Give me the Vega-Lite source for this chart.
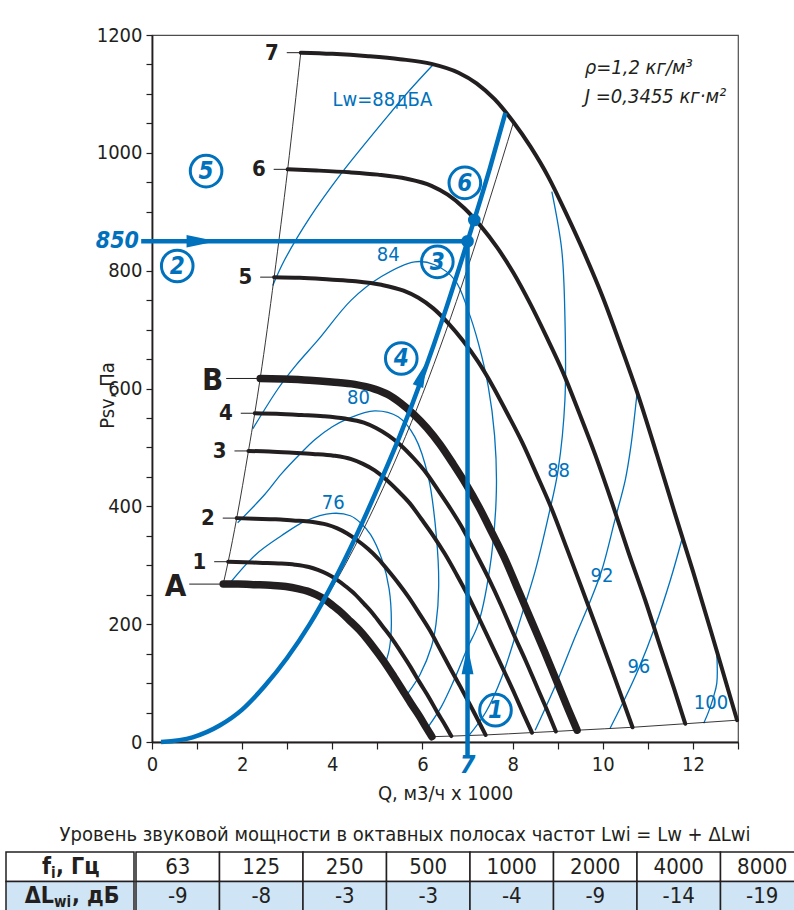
{
  "$schema": "https://vega.github.io/schema/vega-lite/v6.json",
  "padding": {"left": 4, "top": 24, "right": 0, "bottom": 0},
  "columns": 2,
  "align": {"row": "all", "column": "none"},
  "spacing": {"row": 21, "column": 0},
  "config": {
    "font": "Liberation Sans Narrow, DejaVu Sans Condensed, sans-serif",
    "view": {"stroke": null},
    "axis": {
      "domainColor": "#231f20", "domainWidth": 1.8, "tickColor": "#231f20", "tickWidth": 1.2,
      "labelColor": "#231f20", "labelFont": "Liberation Sans Narrow, DejaVu Sans Condensed, sans-serif", "labelFontSize": 20,
      "titleFont": "Liberation Sans Narrow, DejaVu Sans Condensed, sans-serif", "titleFontSize": 20, "titleFontWeight": "normal", "titleColor": "#231f20",
      "grid": false, "labelOverlap": false, "labelFlush": false
    }
  },
  "datasets": {
    "curves": [
      {"c":"7","Q":3.30,"P":1170},{"c":"7","Q":4.0,"P":1168},{"c":"7","Q":4.8,"P":1164},{"c":"7","Q":5.5,"P":1159},{"c":"7","Q":6.2,"P":1151},{"c":"7","Q":6.8,"P":1136},{"c":"7","Q":7.2,"P":1118},{"c":"7","Q":7.6,"P":1091},{"c":"7","Q":8.0,"P":1054},{"c":"7","Q":8.4,"P":1010},{"c":"7","Q":8.8,"P":958},{"c":"7","Q":9.2,"P":895},{"c":"7","Q":9.6,"P":828},{"c":"7","Q":10.0,"P":755},{"c":"7","Q":10.4,"P":672},{"c":"7","Q":10.8,"P":585},{"c":"7","Q":11.2,"P":488},{"c":"7","Q":11.6,"P":388},{"c":"7","Q":12.0,"P":290},{"c":"7","Q":12.4,"P":188},{"c":"7","Q":12.7,"P":110},{"c":"7","Q":12.98,"P":37},
      {"c":"6","Q":3.01,"P":972},{"c":"6","Q":3.65,"P":970},{"c":"6","Q":4.38,"P":967},{"c":"6","Q":5.01,"P":963},{"c":"6","Q":5.65,"P":956},{"c":"6","Q":6.20,"P":944},{"c":"6","Q":6.56,"P":929},{"c":"6","Q":6.93,"P":906},{"c":"6","Q":7.29,"P":876},{"c":"6","Q":7.66,"P":839},{"c":"6","Q":8.02,"P":796},{"c":"6","Q":8.39,"P":744},{"c":"6","Q":8.75,"P":688},{"c":"6","Q":9.12,"P":627},{"c":"6","Q":9.48,"P":558},{"c":"6","Q":9.84,"P":486},{"c":"6","Q":10.21,"P":405},{"c":"6","Q":10.57,"P":322},{"c":"6","Q":10.94,"P":241},{"c":"6","Q":11.30,"P":156},{"c":"6","Q":11.58,"P":91},{"c":"6","Q":11.83,"P":31},
      {"c":"5","Q":2.71,"P":789},{"c":"5","Q":3.28,"P":788},{"c":"5","Q":3.94,"P":785},{"c":"5","Q":4.52,"P":782},{"c":"5","Q":5.09,"P":776},{"c":"5","Q":5.58,"P":766},{"c":"5","Q":5.91,"P":754},{"c":"5","Q":6.24,"P":736},{"c":"5","Q":6.57,"P":711},{"c":"5","Q":6.90,"P":681},{"c":"5","Q":7.23,"P":646},{"c":"5","Q":7.56,"P":604},{"c":"5","Q":7.88,"P":558},{"c":"5","Q":8.21,"P":509},{"c":"5","Q":8.54,"P":453},{"c":"5","Q":8.87,"P":395},{"c":"5","Q":9.20,"P":329},{"c":"5","Q":9.53,"P":262},{"c":"5","Q":9.85,"P":196},{"c":"5","Q":10.18,"P":127},{"c":"5","Q":10.43,"P":74},{"c":"5","Q":10.66,"P":25},
      {"c":"B","Q":2.40,"P":617},{"c":"B","Q":2.90,"P":616},{"c":"B","Q":3.49,"P":614},{"c":"B","Q":3.99,"P":611},{"c":"B","Q":4.50,"P":607},{"c":"B","Q":4.94,"P":599},{"c":"B","Q":5.23,"P":590},{"c":"B","Q":5.52,"P":575},{"c":"B","Q":5.81,"P":556},{"c":"B","Q":6.10,"P":533},{"c":"B","Q":6.39,"P":505},{"c":"B","Q":6.68,"P":472},{"c":"B","Q":6.97,"P":437},{"c":"B","Q":7.26,"P":398},{"c":"B","Q":7.55,"P":354},{"c":"B","Q":7.84,"P":309},{"c":"B","Q":8.13,"P":257},{"c":"B","Q":8.42,"P":205},{"c":"B","Q":8.71,"P":153},{"c":"B","Q":9.00,"P":99},{"c":"B","Q":9.22,"P":58},{"c":"B","Q":9.43,"P":20},
      {"c":"4","Q":2.28,"P":558},{"c":"4","Q":2.76,"P":557},{"c":"4","Q":3.32,"P":555},{"c":"4","Q":3.80,"P":553},{"c":"4","Q":4.28,"P":549},{"c":"4","Q":4.70,"P":542},{"c":"4","Q":4.97,"P":533},{"c":"4","Q":5.25,"P":520},{"c":"4","Q":5.53,"P":503},{"c":"4","Q":5.80,"P":482},{"c":"4","Q":6.08,"P":457},{"c":"4","Q":6.35,"P":427},{"c":"4","Q":6.63,"P":395},{"c":"4","Q":6.91,"P":360},{"c":"4","Q":7.18,"P":321},{"c":"4","Q":7.46,"P":279},{"c":"4","Q":7.74,"P":233},{"c":"4","Q":8.01,"P":185},{"c":"4","Q":8.29,"P":138},{"c":"4","Q":8.56,"P":90},{"c":"4","Q":8.77,"P":53},{"c":"4","Q":8.96,"P":18},
      {"c":"3","Q":2.14,"P":494},{"c":"3","Q":2.60,"P":493},{"c":"3","Q":3.12,"P":491},{"c":"3","Q":3.57,"P":489},{"c":"3","Q":4.03,"P":486},{"c":"3","Q":4.42,"P":480},{"c":"3","Q":4.68,"P":472},{"c":"3","Q":4.94,"P":461},{"c":"3","Q":5.20,"P":445},{"c":"3","Q":5.46,"P":426},{"c":"3","Q":5.72,"P":405},{"c":"3","Q":5.98,"P":378},{"c":"3","Q":6.24,"P":350},{"c":"3","Q":6.50,"P":319},{"c":"3","Q":6.76,"P":284},{"c":"3","Q":7.02,"P":247},{"c":"3","Q":7.28,"P":206},{"c":"3","Q":7.54,"P":164},{"c":"3","Q":7.80,"P":122},{"c":"3","Q":8.06,"P":79},{"c":"3","Q":8.25,"P":46},{"c":"3","Q":8.43,"P":16},
      {"c":"2","Q":1.88,"P":380},{"c":"2","Q":2.28,"P":379},{"c":"2","Q":2.74,"P":378},{"c":"2","Q":3.13,"P":376},{"c":"2","Q":3.53,"P":374},{"c":"2","Q":3.88,"P":369},{"c":"2","Q":4.10,"P":363},{"c":"2","Q":4.33,"P":354},{"c":"2","Q":4.56,"P":342},{"c":"2","Q":4.79,"P":328},{"c":"2","Q":5.02,"P":311},{"c":"2","Q":5.24,"P":291},{"c":"2","Q":5.47,"P":269},{"c":"2","Q":5.70,"P":245},{"c":"2","Q":5.93,"P":218},{"c":"2","Q":6.16,"P":190},{"c":"2","Q":6.38,"P":159},{"c":"2","Q":6.61,"P":126},{"c":"2","Q":6.84,"P":94},{"c":"2","Q":7.07,"P":61},{"c":"2","Q":7.24,"P":36},{"c":"2","Q":7.40,"P":12},
      {"c":"1","Q":1.69,"P":306},{"c":"1","Q":2.05,"P":305},{"c":"1","Q":2.46,"P":304},{"c":"1","Q":2.81,"P":303},{"c":"1","Q":3.17,"P":301},{"c":"1","Q":3.48,"P":297},{"c":"1","Q":3.68,"P":292},{"c":"1","Q":3.89,"P":285},{"c":"1","Q":4.09,"P":276},{"c":"1","Q":4.30,"P":264},{"c":"1","Q":4.50,"P":251},{"c":"1","Q":4.71,"P":234},{"c":"1","Q":4.91,"P":217},{"c":"1","Q":5.11,"P":197},{"c":"1","Q":5.32,"P":176},{"c":"1","Q":5.52,"P":153},{"c":"1","Q":5.73,"P":128},{"c":"1","Q":5.93,"P":102},{"c":"1","Q":6.14,"P":76},{"c":"1","Q":6.34,"P":49},{"c":"1","Q":6.50,"P":29},{"c":"1","Q":6.64,"P":10},
      {"c":"A","Q":1.58,"P":268},{"c":"A","Q":1.91,"P":268},{"c":"A","Q":2.30,"P":267},{"c":"A","Q":2.63,"P":266},{"c":"A","Q":2.97,"P":264},{"c":"A","Q":3.25,"P":260},{"c":"A","Q":3.45,"P":256},{"c":"A","Q":3.64,"P":250},{"c":"A","Q":3.83,"P":242},{"c":"A","Q":4.02,"P":231},{"c":"A","Q":4.21,"P":219},{"c":"A","Q":4.40,"P":205},{"c":"A","Q":4.60,"P":190},{"c":"A","Q":4.79,"P":173},{"c":"A","Q":4.98,"P":154},{"c":"A","Q":5.17,"P":134},{"c":"A","Q":5.36,"P":112},{"c":"A","Q":5.55,"P":89},{"c":"A","Q":5.74,"P":66},{"c":"A","Q":5.94,"P":43},{"c":"A","Q":6.08,"P":25},{"c":"A","Q":6.21,"P":9}
    ],
    "starts": [
      {"c":"A","Q":1.58,"P":268},{"c":"1","Q":1.69,"P":306},{"c":"2","Q":1.88,"P":380},{"c":"3","Q":2.14,"P":494},{"c":"4","Q":2.28,"P":558},{"c":"B","Q":2.40,"P":617},{"c":"5","Q":2.71,"P":789},{"c":"6","Q":3.01,"P":972},{"c":"7","Q":3.30,"P":1170}
    ],
    "ends": [
      {"Q":6.21,"P":9},{"Q":6.64,"P":10},{"Q":7.40,"P":12},{"Q":8.43,"P":16},{"Q":8.96,"P":18},{"Q":9.43,"P":20},{"Q":10.66,"P":25},{"Q":11.83,"P":31},{"Q":12.98,"P":37}
    ],
    "effline": [
      {"Q":3.83,"P":241},{"Q":4.2,"P":289},{"Q":4.6,"P":347},{"Q":5.0,"P":410},{"Q":5.5,"P":496},{"Q":6.0,"P":590},{"Q":6.5,"P":693},{"Q":7.0,"P":804},{"Q":7.5,"P":923},{"Q":8.02,"P":1052}
    ],
    "system": [
      {"Q":0.2,"P":0},{"Q":0.9,"P":8},{"Q":1.5,"P":28},{"Q":2.0,"P":55},{"Q":2.5,"P":95},{"Q":3.0,"P":143},{"Q":3.5,"P":200},{"Q":4.0,"P":268},{"Q":4.5,"P":345},{"Q":5.0,"P":430},{"Q":5.5,"P":520},{"Q":6.0,"P":620},{"Q":6.5,"P":730},{"Q":7.0,"P":850},{"Q":7.5,"P":975},{"Q":7.84,"P":1068}
    ],
    "noise": [
      {"g":"76","Q":1.72,"P":269},{"g":"76","Q":2.3,"P":318},{"g":"76","Q":2.87,"P":350},{"g":"76","Q":3.4,"P":375},{"g":"76","Q":4.0,"P":388},{"g":"76","Q":4.4,"P":384},{"g":"76","Q":4.64,"P":371},{"g":"76","Q":4.85,"P":352},{"g":"76","Q":5.1,"P":310},{"g":"76","Q":5.26,"P":260},{"g":"76","Q":5.31,"P":201},{"g":"76","Q":5.27,"P":160},{"g":"76","Q":5.18,"P":134},
      {"g":"80","Q":1.9,"P":372},{"g":"80","Q":2.5,"P":420},{"g":"80","Q":2.87,"P":455},{"g":"80","Q":3.3,"P":490},{"g":"80","Q":3.61,"P":513},{"g":"80","Q":4.0,"P":535},{"g":"80","Q":4.35,"P":549},{"g":"80","Q":4.94,"P":562},{"g":"80","Q":5.46,"P":552},{"g":"80","Q":5.83,"P":518},{"g":"80","Q":6.13,"P":450},{"g":"80","Q":6.31,"P":348},{"g":"80","Q":6.36,"P":264},{"g":"80","Q":6.3,"P":200},{"g":"80","Q":6.2,"P":162},{"g":"80","Q":5.95,"P":115},{"g":"80","Q":5.68,"P":83},
      {"g":"84","Q":2.24,"P":532},{"g":"84","Q":2.8,"P":600},{"g":"84","Q":3.2,"P":640},{"g":"84","Q":3.68,"P":682},{"g":"84","Q":4.42,"P":750},{"g":"84","Q":5.09,"P":790},{"g":"84","Q":5.83,"P":815},{"g":"84","Q":6.27,"P":810},{"g":"84","Q":6.72,"P":784},{"g":"84","Q":7.01,"P":733},{"g":"84","Q":7.24,"P":677},{"g":"84","Q":7.46,"P":603},{"g":"84","Q":7.6,"P":520},{"g":"84","Q":7.64,"P":428},{"g":"84","Q":7.53,"P":315},{"g":"84","Q":7.24,"P":201},{"g":"84","Q":7.0,"P":160},{"g":"84","Q":6.7,"P":105},{"g":"84","Q":6.42,"P":60},{"g":"84","Q":6.13,"P":26},
      {"g":"88a","Q":2.68,"P":775},{"g":"88a","Q":2.94,"P":818},{"g":"88a","Q":3.5,"P":890},{"g":"88a","Q":4.2,"P":965},{"g":"88a","Q":4.7,"P":1013},{"g":"88a","Q":5.16,"P":1056},{"g":"88a","Q":5.7,"P":1105},{"g":"88a","Q":6.24,"P":1150},
      {"g":"88b","Q":8.87,"P":934},{"g":"88b","Q":9.09,"P":835},{"g":"88b","Q":9.16,"P":722},{"g":"88b","Q":9.16,"P":580},{"g":"88b","Q":9.01,"P":462},{"g":"88b","Q":8.8,"P":385},{"g":"88b","Q":8.5,"P":290},{"g":"88b","Q":8.2,"P":215},{"g":"88b","Q":7.76,"P":110},{"g":"88b","Q":7.4,"P":50},{"g":"88b","Q":7.02,"P":10},
      {"g":"92","Q":10.76,"P":592},{"g":"92","Q":10.62,"P":500},{"g":"92","Q":10.5,"P":445},{"g":"92","Q":10.27,"P":377},{"g":"92","Q":9.98,"P":292},{"g":"92","Q":9.7,"P":235},{"g":"92","Q":9.39,"P":179},{"g":"92","Q":9.0,"P":105},{"g":"92","Q":8.5,"P":20},
      {"g":"96","Q":11.76,"P":345},{"g":"96","Q":11.5,"P":275},{"g":"96","Q":11.16,"P":196},{"g":"96","Q":10.8,"P":125},{"g":"96","Q":10.5,"P":75},{"g":"96","Q":10.16,"P":23},
      {"g":"100","Q":12.53,"P":150},{"g":"100","Q":12.53,"P":100},{"g":"100","Q":12.45,"P":75},{"g":"100","Q":12.35,"P":52},{"g":"100","Q":12.24,"P":32}
    ],
    "nlabels": [
      {"t":"Lw=88дБА","Q":5.11,"P":1090},{"t":"84","Q":5.24,"P":826},{"t":"80","Q":4.58,"P":584},{"t":"76","Q":4.02,"P":406},
      {"t":"88","Q":9.02,"P":460},{"t":"92","Q":9.98,"P":282},{"t":"96","Q":10.8,"P":127},{"t":"100","Q":12.4,"P":66}
    ],
    "guides": [
      {"g":"h","Q":-0.24,"P":850},{"g":"h","Q":7.0,"P":850},{"g":"v","Q":7.0,"P":-27},{"g":"v","Q":7.0,"P":850}
    ],
    "arrows": [
      {"k":"h","Q":1.1,"P":850},{"k":"v","Q":7.0,"P":139},{"k":"s","Q":6.0,"P":625}
    ],
    "dots": [{"Q":7.0,"P":850},{"Q":7.15,"P":886}],
    "circled": [
      {"n":"1","Q":7.62,"P":54},{"n":"2","Q":0.56,"P":808},{"n":"3","Q":6.33,"P":815},{"n":"4","Q":5.53,"P":651},{"n":"5","Q":1.2,"P":969},{"n":"6","Q":6.94,"P":949}
    ],
    "marks": [{"t":"850","Q":0,"P":850},{"t":"7","Q":7.0,"P":-39}],
    "notes": [{"t":"ρ=1,2 кг/м³","Q":9.6,"P":1144},{"t":"J =0,3455 кг·м²","Q":9.6,"P":1095}],
    "table": [
      {"freq":"63","row":"f","v":"63"},{"freq":"125","row":"f","v":"125"},{"freq":"250","row":"f","v":"250"},{"freq":"500","row":"f","v":"500"},{"freq":"1000","row":"f","v":"1000"},{"freq":"2000","row":"f","v":"2000"},{"freq":"4000","row":"f","v":"4000"},{"freq":"8000","row":"f","v":"8000"},
      {"freq":"63","row":"d","v":"-9"},{"freq":"125","row":"d","v":"-8"},{"freq":"250","row":"d","v":"-3"},{"freq":"500","row":"d","v":"-3"},{"freq":"1000","row":"d","v":"-4"},{"freq":"2000","row":"d","v":"-9"},{"freq":"4000","row":"d","v":"-14"},{"freq":"8000","row":"d","v":"-19"}
    ],
    "rowlabels": [{"row":"f"},{"row":"d"}],
    "blank": [{"row":"f"}]
  },
  "concat": [
    {
      "width": 1, "height": 1,
      "data": {"name": "blank"},
      "mark": {"type": "point", "opacity": 0, "size": 0}
    },
    {
      "width": 586,
      "height": 707,
      "view": {"stroke": "#4d4d4d", "strokeWidth": 1.2},
      "encoding": {
        "x": {"field": "Q", "type": "quantitative",
          "scale": {"domain": [0, 13], "nice": false, "zero": false},
          "axis": {"values": [0,0.5,1,1.5,2,2.5,3,3.5,4,4.5,5,5.5,6,6.5,7,7.5,8,8.5,9,9.5,10,10.5,11,11.5,12,12.5,13],
            "format": "d", "labelExpr": "datum.value % 2 === 0 ? datum.label : ''",
            "title": "Q, м3/ч x 1000", "tickSize": 7, "labelPadding": 5, "titlePadding": 9}},
        "y": {"field": "P", "type": "quantitative",
          "scale": {"domain": [0, 1200], "nice": false, "zero": false},
          "axis": {"values": [0,50,100,150,200,250,300,350,400,450,500,550,600,650,700,750,800,850,900,950,1000,1050,1100,1150,1200],
            "format": "d", "labelExpr": "datum.value % 200 === 0 ? datum.label : ''",
            "title": "Psv, Па", "tickSize": 6, "labelPadding": 4, "minExtent": 145.5,
            "titleX": -35, "titleY": 360}}
      },
      "layer": [
        {"data": {"name": "noise"}, "mark": {"type": "line", "color": "#0071bc", "strokeWidth": 1.3, "interpolate": "catmull-rom"},
         "encoding": {"detail": {"field": "g"}, "order": {"value": null}}},
        {"data": {"name": "starts"}, "mark": {"type": "line", "color": "#231f20", "strokeWidth": 0.9, "interpolate": "monotone"}, "encoding": {}},
        {"data": {"name": "ends"}, "mark": {"type": "line", "color": "#231f20", "strokeWidth": 0.9, "interpolate": "monotone"}, "encoding": {}},
        {"data": {"name": "effline"}, "mark": {"type": "line", "color": "#231f20", "strokeWidth": 0.9, "interpolate": "monotone"}, "encoding": {}},
        {"data": {"name": "curves"}, "transform": [{"filter": "datum.c !== 'A' && datum.c !== 'B'"}],
         "mark": {"type": "line", "color": "#231f20", "strokeWidth": 4, "strokeCap": "round", "interpolate": "monotone"},
         "encoding": {"detail": {"field": "c"}}},
        {"data": {"name": "curves"}, "transform": [{"filter": "datum.c === 'A' || datum.c === 'B'"}],
         "mark": {"type": "line", "color": "#231f20", "strokeWidth": 7.5, "strokeCap": "round", "interpolate": "monotone"},
         "encoding": {"detail": {"field": "c"}}},
        {"data": {"name": "starts"}, "transform": [{"filter": "datum.c !== 'A' && datum.c !== 'B'"}],
         "mark": {"type": "point", "shape": "M-1,0L0,0", "size": 784, "filled": false, "stroke": "#231f20", "strokeWidth": 1, "opacity": 1}},
        {"data": {"name": "starts"}, "transform": [{"filter": "datum.c === 'A' || datum.c === 'B'"}],
         "mark": {"type": "point", "shape": "M-1,0L0,0", "size": 4624, "filled": false, "stroke": "#231f20", "strokeWidth": 1, "opacity": 1}},
        {"data": {"name": "starts"}, "transform": [{"filter": "datum.c !== 'A' && datum.c !== 'B'"}],
         "mark": {"type": "text", "align": "right", "baseline": "middle", "dx": -22, "fontSize": 22, "fontWeight": "bold", "color": "#231f20"},
         "encoding": {"text": {"field": "c"}}},
        {"data": {"name": "starts"}, "transform": [{"filter": "datum.c === 'A' || datum.c === 'B'"}],
         "mark": {"type": "text", "align": "right", "baseline": "middle", "dx": -37, "dy": 3, "fontSize": 31, "fontWeight": "bold", "color": "#231f20"},
         "encoding": {"text": {"field": "c"}}},
        {"data": {"name": "system"}, "mark": {"type": "line", "color": "#0071bc", "strokeWidth": 4.5, "interpolate": "monotone"}, "encoding": {}},
        {"data": {"name": "guides"}, "mark": {"type": "line", "color": "#0071bc", "strokeWidth": 4.5},
         "encoding": {"detail": {"field": "g"}, "order": {"value": null}}},
        {"data": {"name": "arrows"}, "transform": [{"filter": "datum.k === 'h'"}],
         "mark": {"type": "point", "shape": "M0,-1L0.42,1L-0.42,1Z", "size": 900, "filled": true, "color": "#0071bc", "opacity": 1, "angle": 90}},
        {"data": {"name": "arrows"}, "transform": [{"filter": "datum.k === 'v'"}],
         "mark": {"type": "point", "shape": "M0,-1L0.42,1L-0.42,1Z", "size": 800, "filled": true, "color": "#0071bc", "opacity": 1, "angle": 0}},
        {"data": {"name": "arrows"}, "transform": [{"filter": "datum.k === 's'"}],
         "mark": {"type": "point", "shape": "M0,-1L0.42,1L-0.42,1Z", "size": 700, "filled": true, "color": "#0071bc", "opacity": 1, "angle": 20}},
        {"data": {"name": "dots"}, "mark": {"type": "point", "shape": "circle", "size": 160, "filled": true, "color": "#0071bc", "opacity": 1}},
        {"data": {"name": "circled"}, "mark": {"type": "point", "shape": "circle", "size": 1000, "filled": false, "stroke": "#0071bc", "strokeWidth": 3, "opacity": 1}},
        {"data": {"name": "circled"}, "mark": {"type": "text", "align": "center", "baseline": "middle", "dy": 1, "fontSize": 24, "fontWeight": "bold", "fontStyle": "italic", "color": "#0071bc"},
         "encoding": {"text": {"field": "n"}}},
        {"data": {"name": "nlabels"}, "mark": {"type": "text", "align": "center", "baseline": "middle", "fontSize": 20, "color": "#0071bc"},
         "encoding": {"text": {"field": "t"}}},
        {"data": {"name": "marks"}, "transform": [{"filter": "datum.t === '850'"}],
         "mark": {"type": "text", "align": "right", "baseline": "middle", "dx": -13, "fontSize": 23, "fontWeight": "bold", "fontStyle": "italic", "color": "#0071bc"},
         "encoding": {"text": {"field": "t"}}},
        {"data": {"name": "marks"}, "transform": [{"filter": "datum.t === '7'"}],
         "mark": {"type": "text", "align": "center", "baseline": "middle", "fontSize": 25, "fontWeight": "bold", "fontStyle": "italic", "color": "#0071bc"},
         "encoding": {"text": {"field": "t"}}},
        {"data": {"name": "notes"}, "mark": {"type": "text", "align": "left", "baseline": "middle", "fontSize": 20, "fontStyle": "italic", "color": "#231f20"},
         "encoding": {"text": {"field": "t"}}}
      ]
    },
    {
      "width": 1, "height": 1,
      "data": {"name": "blank"},
      "mark": {"type": "point", "opacity": 0, "size": 0}
    },
    {
      "title": {"text": "Уровень звуковой мощности в октавных полосах частот Lwi = Lw + ΔLwi", "anchor": "middle", "fontSize": 20, "fontWeight": "normal", "color": "#231f20", "offset": 6, "font": "Liberation Sans Narrow, DejaVu Sans Condensed, sans-serif"},
      "spacing": 0,
      "hconcat": [
        {
          "width": 128, "height": 59,
          "data": {"name": "rowlabels"},
          "encoding": {"y": {"field": "row", "type": "nominal", "sort": ["f", "d"], "axis": null, "scale": {"paddingInner": 0, "paddingOuter": 0}}},
          "layer": [
            {"mark": {"type": "rect", "stroke": "#231f20", "strokeWidth": 1.5},
             "encoding": {"fill": {"field": "row", "type": "nominal", "scale": {"domain": ["f", "d"], "range": ["#ffffff", "#cfe4f5"]}, "legend": null}}},
            {"transform": [{"filter": "datum.row === 'f'"}], "mark": {"type": "text", "align": "right", "baseline": "middle", "dx": -19, "fontSize": 23, "fontWeight": "bold", "color": "#231f20"}, "encoding": {"text": {"value": "f"}}},
            {"transform": [{"filter": "datum.row === 'f'"}], "mark": {"type": "text", "align": "left", "baseline": "middle", "dx": -19, "dy": 6, "fontSize": 15, "fontWeight": "bold", "color": "#231f20"}, "encoding": {"text": {"value": "i"}}},
            {"transform": [{"filter": "datum.row === 'f'"}], "mark": {"type": "text", "align": "left", "baseline": "middle", "dx": -14, "fontSize": 23, "fontWeight": "bold", "color": "#231f20"}, "encoding": {"text": {"value": ", Гц"}}},
            {"transform": [{"filter": "datum.row === 'd'"}], "mark": {"type": "text", "align": "right", "baseline": "middle", "dx": -16, "fontSize": 23, "fontWeight": "bold", "color": "#231f20"}, "encoding": {"text": {"value": "ΔL"}}},
            {"transform": [{"filter": "datum.row === 'd'"}], "mark": {"type": "text", "align": "left", "baseline": "middle", "dx": -16, "dy": 6, "fontSize": 15, "fontWeight": "bold", "color": "#231f20"}, "encoding": {"text": {"value": "wi"}}},
            {"transform": [{"filter": "datum.row === 'd'"}], "mark": {"type": "text", "align": "left", "baseline": "middle", "dx": 2, "fontSize": 23, "fontWeight": "bold", "color": "#231f20"}, "encoding": {"text": {"value": ", дБ"}}}
          ]
        },
        {
          "width": 668, "height": 59,
          "data": {"name": "table"},
          "encoding": {
            "x": {"field": "freq", "type": "ordinal", "sort": null, "axis": null, "scale": {"paddingInner": 0, "paddingOuter": 0}},
            "y": {"field": "row", "type": "nominal", "sort": ["f", "d"], "axis": null, "scale": {"paddingInner": 0, "paddingOuter": 0}}
          },
          "layer": [
            {"mark": {"type": "rect", "stroke": "#231f20", "strokeWidth": 1.5},
             "encoding": {"fill": {"field": "row", "type": "nominal", "scale": {"domain": ["f", "d"], "range": ["#ffffff", "#cfe4f5"]}, "legend": null}}},
            {"mark": {"type": "text", "align": "center", "baseline": "middle", "fontSize": 22, "color": "#231f20"},
             "encoding": {"text": {"field": "v"}}}
          ]
        }
      ]
    }
  ]
}
